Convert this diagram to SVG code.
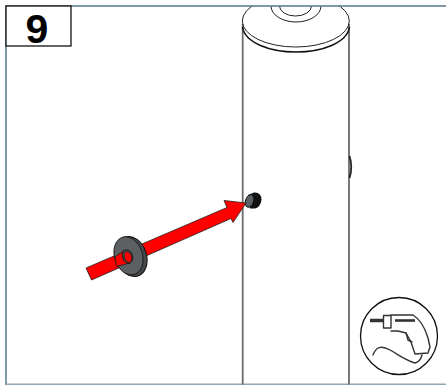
<svg xmlns="http://www.w3.org/2000/svg" width="446" height="385" viewBox="0 0 446 385">
<defs>
<style>
.ln{fill:none;stroke:#222;stroke-width:1}
.cyl{fill:none;stroke:#6a6a6a;stroke-width:1.800}
.ic{fill:none;stroke:#333;stroke-width:1.400;stroke-linejoin:round;stroke-linecap:round}
</style>
<clipPath id="c"><rect x="6" y="6.500" width="440" height="378"/></clipPath>
</defs>
<rect width="446" height="385" fill="#fff"/>
<g id="frame" fill="none" stroke="#55788c" stroke-width="1.500">
<path d="M6 385V6H446"/>
<path d="M6 384.200H446" stroke="#93a6b3"/>
</g>
<g id="cylinder" clip-path="url(#c)">
<path class="cyl" d="M242.700 24V385M349 24V385"/>
<ellipse class="ln" cx="295.800" cy="21" rx="53.500" ry="26"/>
<path d="M242.500 27C245 43 270 52 296 52S347 43 349.500 27" fill="none" stroke="#111" stroke-width="1.600"/>
<ellipse class="ln" cx="296" cy="6" rx="25" ry="16"/>
<ellipse class="ln" cx="295.500" cy="6" rx="16" ry="10"/>
<path d="M349.500 156Q353 167 349.500 178" fill="none" stroke="#222" stroke-width="1.800"/>
</g>
<g id="screw">
<path d="M248 195L254 192.500Q261.500 192 261.500 200Q260.500 207 255 208.500L250 208.500Z" fill="#111"/>
<ellipse cx="249.500" cy="201" rx="4" ry="6.500" transform="rotate(18 249.500 201)" fill="#5a6064" stroke="#111" stroke-width="0.900"/>
</g>
<g id="arrow">
<path d="M86 268L227 207.500L224 200.500L246 203L233 222.500L231 218.500L91.500 280Z" fill="#f00" stroke="#222" stroke-width="0.800" stroke-linejoin="round"/>
</g>
<g id="washer">
<ellipse cx="131.500" cy="256.500" rx="15" ry="20.500" transform="rotate(-18 131.500 256.500)" fill="#45494c" stroke="#111" stroke-width="1"/>
<ellipse cx="128.500" cy="255.800" rx="14" ry="19.500" transform="rotate(-18 128.500 255.800)" fill="#5c6063" stroke="#111" stroke-width="0.800"/>
<path d="M115 257L124 250.500L130 263L116.500 266.500Z" fill="#f00" stroke="#222" stroke-width="0.800"/>
<ellipse cx="127.500" cy="256.500" rx="5" ry="7" transform="rotate(-18 127.500 256.500)" fill="#4a4e50" stroke="#111" stroke-width="0.800"/>
<ellipse cx="128" cy="257" rx="3.500" ry="5.500" transform="rotate(-18 128 257)" fill="#f00" stroke="#222" stroke-width="0.600"/>
</g>
<g id="step-label">
<rect x="6" y="6" width="65" height="40" fill="#fff" stroke="#111" stroke-width="1.300"/>
<text x="37" y="43" font-family="Liberation Sans, Arial, sans-serif" font-weight="700" font-size="41" text-anchor="middle" fill="#000">9</text>
</g>
<g id="drill-icon">
<circle cx="399" cy="336" r="38.500" fill="#fff" stroke="#111" stroke-width="1.300"/>
<path class="ic" d="M391 315H413Q423 321 428 338L430 347L428 353L415 354L411 342L406 333L398 331H391"/>
<path class="ic" d="M383.500 315.500H391V328H383.500Z"/>
<path class="ic" d="M406 333L408 340L412 342"/>
<path d="M395 320.500H415" stroke="#333" stroke-width="2.600" fill="none"/>
<path d="M370 320.500H383" stroke="#333" stroke-width="3.500" fill="none"/>
<path class="ic" d="M373 355C376 347 381 345 390 350S405 360 415 363Q420 362 422 355"/>
</g>
</svg>
